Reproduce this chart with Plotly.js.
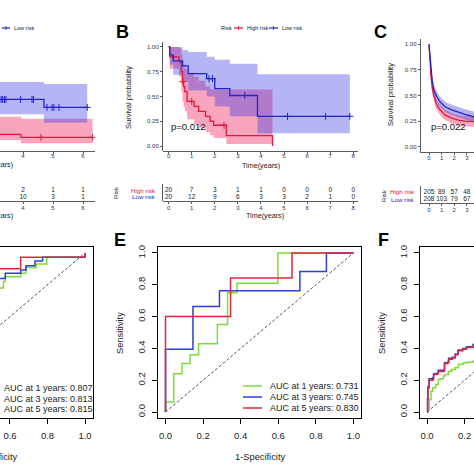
<!DOCTYPE html>
<html><head><meta charset="utf-8">
<script src="https://cdn.plot.ly/plotly-3.0.1.min.js"></script>
<style>html,body{margin:0;padding:0;background:#fff}#chart{width:474px;height:474px}</style>
</head><body><div id="chart"></div>
<script>
// ===== Panel A (Kaplan-Meier, right part visible) =====
const aLowT = [3.0, 4.7, 6.14];
const aLowS = [0.47, 0.39, 0.39];
const aLowUp = [0.646, 0.626, 0.626];
const aLowLo = [0.32, 0.235, 0.235];
const aHighT = [3.0, 3.93, 6.32];
const aHighS = [0.118, 0.088, 0.088];
const aHighUp = [0.296, 0.276, 0.276];
const aHighLo = [0.06, 0.027, 0.027];
const aLowCensT = [3.27, 3.32, 3.38, 3.43, 3.92, 4.3, 4.35, 4.8, 4.97, 5.03, 5.2, 6.14];
const aLowCensS = [0.47, 0.47, 0.47, 0.47, 0.47, 0.47, 0.47, 0.39, 0.39, 0.39, 0.39, 0.39];
const aHighCensT = [4.6, 6.32];
const aHighCensS = [0.088, 0.088];
const aRiskT = [4, 5, 6];
const aRiskHigh = [2, 1, 1];
const aRiskLow = [10, 3, 1];

// ===== Panel B =====
const bHighT  = [0, 0.05, 0.45, 0.55, 0.6, 0.65, 0.7, 0.8, 1.1, 1.3, 1.6, 1.8, 1.95, 2.5, 4.5, 4.5];
const bHighS  = [1, 0.90, 0.85, 0.75, 0.65, 0.60, 0.55, 0.45, 0.40, 0.35, 0.30, 0.25, 0.21, 0.105, 0.105, 0];
const bHighBT = [0, 0.05, 0.45, 0.55, 0.6, 0.65, 0.7, 0.8, 1.1, 1.3, 1.6, 1.8, 1.95, 2.5, 4.5];
const bHighUp = [1, 1.0, 0.99, 0.93, 0.86, 0.82, 0.78, 0.74, 0.70, 0.66, 0.60, 0.57, 0.57, 0.57, 0.57];
const bHighLo = [1, 0.78, 0.70, 0.55, 0.45, 0.40, 0.35, 0.27, 0.22, 0.18, 0.14, 0.11, 0.08, 0.02, 0.02];
const bLowT  = [0, 0.05, 0.2, 0.6, 0.85, 1.65, 2.0, 2.65, 3.85, 7.85];
const bLowS  = [1, 0.92, 0.86, 0.81, 0.73, 0.68, 0.58, 0.51, 0.30, 0.30];
const bLowUp = [1, 1, 1, 0.97, 0.95, 0.90, 0.87, 0.83, 0.725, 0.725];
const bLowLo = [1, 0.82, 0.72, 0.65, 0.56, 0.50, 0.40, 0.30, 0.13, 0.13];
const bHighCensT = [0.62, 1.0, 2.4];
const bHighCensS = [0.65, 0.45, 0.21];
const bLowCensT = [1.75, 1.9, 3.3, 5.15, 6.8, 7.85];
const bLowCensS = [0.68, 0.68, 0.51, 0.30, 0.30, 0.30];
const bRiskT = [0, 1, 2, 3, 4, 5, 6, 7, 8];
const bRiskHigh = [20, 7, 3, 1, 1, 0, 0, 0, 0];
const bRiskLow = [20, 12, 9, 6, 3, 3, 2, 1, 0];

// ===== Panel C =====
const cT = [0, 0.08, 0.16, 0.26, 0.4, 0.61, 0.87, 1.27, 1.8, 2.33, 2.86, 3.65];
const cLowS  = [1.0, 0.86, 0.73, 0.635, 0.55, 0.49, 0.44, 0.39, 0.36, 0.335, 0.315, 0.29];
const cLowUp = [1.0, 0.90, 0.78, 0.69, 0.60, 0.54, 0.49, 0.44, 0.41, 0.385, 0.365, 0.34];
const cLowLo = [1.0, 0.82, 0.68, 0.58, 0.50, 0.44, 0.39, 0.34, 0.31, 0.285, 0.265, 0.24];
const cHighS  = [1.0, 0.79, 0.685, 0.57, 0.49, 0.41, 0.36, 0.31, 0.28, 0.26, 0.25, 0.245];
const cHighUp = [1.0, 0.83, 0.73, 0.62, 0.54, 0.46, 0.41, 0.36, 0.33, 0.31, 0.30, 0.295];
const cHighLo = [1.0, 0.75, 0.64, 0.52, 0.44, 0.36, 0.31, 0.26, 0.23, 0.21, 0.20, 0.195];
const cRiskT = [0, 1, 2, 3];
const cRiskHigh = [205, 89, 57, 48];
const cRiskLow = [208, 103, 79, 67];

// ===== Panel D (ROC, right part visible) =====
const dGreenX = [0.50, 0.565, 0.575, 0.657, 0.685, 0.74, 0.796, 1.0, 1.0];
const dGreenY = [0.78, 0.82, 0.851, 0.872, 0.908, 0.93, 0.973, 0.973, 1.0];
const dBlueX = [0.50, 0.575, 0.657, 0.685, 0.733, 0.774, 1.0, 1.0];
const dBlueY = [0.84, 0.872, 0.893, 0.92, 0.95, 0.973, 0.973, 1.0];
const dRedX = [0.50, 0.657, 1.0, 1.0];
const dRedY = [0.90, 0.973, 0.973, 1.0];
const dAuc = ['0.807', '0.813', '0.815'];

// ===== Panel E =====
const eGreenX = [0, 0, 0.044, 0.088, 0.13, 0.176, 0.276, 0.33, 0.38, 0.598, 1.0];
const eGreenY = [0, 0.063, 0.24, 0.305, 0.36, 0.43, 0.55, 0.75, 0.81, 1.0, 1.0];
const eBlueX = [0, 0, 0.146, 0.287, 0.715, 0.856, 1.0];
const eBlueY = [0, 0.394, 0.663, 0.762, 0.884, 1.0, 1.0];
const eRedX = [0, 0, 0.346, 0.673, 1.0];
const eRedY = [0, 0.60, 0.842, 1.0, 1.0];
const eAuc = ['0.731', '0.745', '0.830'];

// ===== Panel F (ROC, left part visible) =====
const fRedX = [0, 0.003, 0.005, 0.011, 0.03, 0.035, 0.055, 0.06, 0.09, 0.093, 0.11, 0.115, 0.135, 0.15, 0.165, 0.19, 0.21, 0.245, 0.27];
const fRedY = [0, 0.09, 0.15, 0.20, 0.205, 0.236, 0.24, 0.255, 0.26, 0.305, 0.31, 0.332, 0.34, 0.36, 0.385, 0.395, 0.405, 0.415, 0.42];
const fBlueX = [0, 0.003, 0.005, 0.011, 0.03, 0.035, 0.055, 0.06, 0.09, 0.093, 0.11, 0.115, 0.135, 0.15, 0.165, 0.19, 0.21, 0.245, 0.27];
const fBlueY = [0, 0.08, 0.16, 0.21, 0.215, 0.24, 0.245, 0.262, 0.265, 0.31, 0.315, 0.338, 0.345, 0.365, 0.39, 0.40, 0.41, 0.425, 0.43];
const fGreenX = [0, 0.0035, 0.012, 0.021, 0.03, 0.046, 0.06, 0.07, 0.087, 0.096, 0.114, 0.131, 0.149, 0.167, 0.193, 0.22, 0.246, 0.27];
const fGreenY = [0, 0.015, 0.078, 0.131, 0.152, 0.173, 0.205, 0.21, 0.226, 0.236, 0.257, 0.268, 0.278, 0.30, 0.31, 0.314, 0.32, 0.325];

const rocYears = [1, 3, 5];

// ---------- styling ----------
const FONT = 'Liberation Sans, Arial, sans-serif';
const W = 474;
const PX = v => v / W;
const PY = v => 1 - v / W;
const kmRed = '#e3173c', kmBlue = '#2424c8';
const redFill = 'rgba(240,40,100,0.42)', blueFill = 'rgba(50,50,230,0.36)';
const rocCol = ['#7ddc3c', '#2f3fd0', '#e3243f'];

const traces = [];
function band(xa, ya, t, lo, hi, fill, shape) {
  traces.push({type:'scatter', x:t, y:lo, xaxis:xa, yaxis:ya, mode:'lines', line:{width:0, shape:shape}, hoverinfo:'skip'});
  traces.push({type:'scatter', x:t, y:hi, xaxis:xa, yaxis:ya, mode:'lines', line:{width:0, shape:shape}, fill:'tonexty', fillcolor:fill, hoverinfo:'skip'});
}
function line(xa, ya, x, y, color, w, shape, dash) {
  traces.push({type:'scatter', x:x, y:y, xaxis:xa, yaxis:ya, mode:'lines', line:{color:color, width:w, shape:shape, dash:dash||'solid'}, hoverinfo:'skip', cliponaxis:true});
}
function cens(xa, ya, x, y, color) {
  traces.push({type:'scatter', x:x, y:y, xaxis:xa, yaxis:ya, mode:'markers', marker:{symbol:'cross-thin-open', size:5, color:color, line:{width:1, color:color}}, hoverinfo:'skip', cliponaxis:true});
}
function riskRow(xa, ya, t, vals, row) {
  traces.push({type:'scatter', mode:'text', x:t, y:t.map(() => row), text:vals.map(String), xaxis:xa, yaxis:ya, textfont:{size:6.5, color:'#222', family:FONT}, hoverinfo:'skip', cliponaxis:false});
}

// A
band('x', 'y', aHighT, aHighLo, aHighUp, redFill, 'hv');
band('x', 'y', aLowT, aLowLo, aLowUp, blueFill, 'hv');
line('x', 'y', aHighT, aHighS, kmRed, 1.3, 'hv');
line('x', 'y', aLowT, aLowS, kmBlue, 1.3, 'hv');
cens('x', 'y', aHighCensT, aHighCensS, kmRed);
cens('x', 'y', aLowCensT, aLowCensS, kmBlue);
riskRow('x4', 'y4', aRiskT, aRiskHigh, 1);
riskRow('x4', 'y4', aRiskT, aRiskLow, 0);
// B
band('x2', 'y2', bHighBT, bHighLo, bHighUp, redFill, 'hv');
band('x2', 'y2', bLowT, bLowLo, bLowUp, blueFill, 'hv');
line('x2', 'y2', bHighT, bHighS, kmRed, 1.3, 'hv');
line('x2', 'y2', bLowT, bLowS, kmBlue, 1.3, 'hv');
cens('x2', 'y2', bHighCensT, bHighCensS, kmRed);
cens('x2', 'y2', bLowCensT, bLowCensS, kmBlue);
riskRow('x5', 'y5', bRiskT, bRiskHigh, 1);
riskRow('x5', 'y5', bRiskT, bRiskLow, 0);
// C
band('x3', 'y3', cT, cHighLo, cHighUp, redFill, 'linear');
band('x3', 'y3', cT, cLowLo, cLowUp, blueFill, 'linear');
line('x3', 'y3', cT, cHighS, kmRed, 1.3, 'linear');
line('x3', 'y3', cT, cLowS, kmBlue, 1.3, 'linear');
riskRow('x6', 'y6', cRiskT, cRiskHigh, 1);
riskRow('x6', 'y6', cRiskT, cRiskLow, 0);
// D
line('x7', 'y7', [0, 1], [0, 1], '#555', 1, 'linear', '3px,2px');
line('x7', 'y7', dGreenX, dGreenY, rocCol[0], 1.5, 'hv');
line('x7', 'y7', dBlueX, dBlueY, rocCol[1], 1.5, 'hv');
line('x7', 'y7', dRedX, dRedY, rocCol[2], 1.5, 'hv');
// E
line('x8', 'y8', [0, 1], [0, 1], '#555', 1, 'linear', '3px,2px');
line('x8', 'y8', eGreenX, eGreenY, rocCol[0], 1.5, 'hv');
line('x8', 'y8', eBlueX, eBlueY, rocCol[1], 1.5, 'hv');
line('x8', 'y8', eRedX, eRedY, rocCol[2], 1.5, 'hv');
// F
line('x9', 'y9', [0, 1], [0, 1], '#555', 1, 'linear', '3px,2px');
line('x9', 'y9', fGreenX, fGreenY, rocCol[0], 1.5, 'hv');
line('x9', 'y9', fBlueX, fBlueY, rocCol[1], 1.5, 'hv');
line('x9', 'y9', fRedX, fRedY, rocCol[2], 1.5, 'hv');

// ---------- axes ----------
const base = {showgrid:false, zeroline:false, fixedrange:true};
function kmX(dom, rng, anchor, ticklen, standoff) {
  return Object.assign({}, base, {domain:dom, range:rng, anchor:anchor, showline:true, linecolor:'#333', linewidth:0.8,
    ticks:'outside', ticklen:ticklen, tickwidth:0.8, tickcolor:'#333', tick0:0, dtick:1, ticklabelstandoff:standoff,
    tickfont:{size:6, color:'#333', family:FONT}});
}
function kmY(dom, anchor) {
  return Object.assign({}, base, {domain:dom, range:[-0.05, 1.05], anchor:anchor, showline:true, linecolor:'#333', linewidth:0.8,
    ticks:'outside', ticklen:2.5, tickwidth:0.8, tickcolor:'#333', tickvals:[0, 0.25, 0.5, 0.75, 1], tickformat:'.2f',
    tickfont:{size:6, color:'#333', family:FONT}});
}
function tabY(dom, rng, anchor, show) {
  return Object.assign({}, base, {domain:dom, range:rng, anchor:anchor, showline:show, linecolor:'#333', linewidth:0.8,
    ticks:'', showticklabels:false});
}
function rocX(dom, rng, anchor) {
  return Object.assign({}, base, {domain:dom, range:rng, anchor:anchor, showline:true, mirror:true, linecolor:'#000', linewidth:1,
    ticks:'outside', ticklen:5, tickwidth:1, tickcolor:'#000', tickvals:[0, 0.2, 0.4, 0.6, 0.8, 1], tickformat:'.1f',
    ticklabelstandoff:3, tickfont:{size:9.5, color:'#222', family:FONT}});
}
function rocY(dom, anchor, extra) {
  return Object.assign({}, base, {domain:dom, range:[-0.04, 1.04], anchor:anchor, showline:true, linecolor:'#000', linewidth:1,
    ticks:'outside', ticklen:5, tickwidth:1, tickcolor:'#000', tickvals:[0, 0.2, 0.4, 0.6, 0.8, 1], tickformat:'.1f',
    tickangle:-90, ticklabelstandoff:3, tickfont:{size:9.5, color:'#222', family:FONT}}, extra || {});
}

const kmYdom = [PY(151), PY(42)];
const layout = {
  width:474, height:474, margin:{l:0, r:0, t:0, b:0}, paper_bgcolor:'#fff', plot_bgcolor:'rgba(0,0,0,0)',
  showlegend:false, font:{family:FONT, color:'#222'},
  xaxis: kmX([0, PX(95)], [3.233, 6.4], 'y', 2, -3),
  yaxis: Object.assign({}, base, {domain:kmYdom, range:[-0.05, 1.05], anchor:'x', visible:false}),
  xaxis2: kmX([PX(163.3), PX(357.9)], [-0.23, 8.2], 'y2', 2, -3),
  yaxis2: kmY(kmYdom, 'x2'),
  xaxis3: kmX([PX(421), 1], [-0.635, 3.571], 'y3', 2, -2),
  yaxis3: kmY([PY(151.8), PY(39.2)], 'x3'),
  xaxis4: kmX([0, PX(95)], [3.233, 6.4], 'y4', 2, -1),
  yaxis4: tabY([PY(201), PY(184)], [-0.615, 2.0], 'x4', false),
  xaxis5: kmX([PX(163.3), PX(357.9)], [-0.23, 8.2], 'y5', 2, -1),
  yaxis5: tabY([PY(201), PY(184)], [-0.615, 2.0], 'x5', true),
  xaxis6: kmX([PX(421), 1], [-0.635, 3.571], 'y6', 2, -1),
  yaxis6: tabY([PY(203), PY(186)], [-0.467, 1.8], 'x6', true),
  xaxis7: rocX([0, PX(92.5)], [0.5467, 1.04], 'y7'),
  yaxis7: rocY([PY(418.4), PY(246.6)], 'x7', {side:'right', ticks:'', showticklabels:false}),
  xaxis8: rocX([PX(158), PX(361)], [-0.04, 1.04], 'y8'),
  yaxis8: rocY([PY(418.4), PY(246.6)], 'x8', {mirror:true}),
  xaxis9: rocX([PX(419.5), 1], [-0.04, 0.25], 'y9'),
  yaxis9: rocY([PY(418.4), PY(246.6)], 'x9'),
  annotations: [],
  shapes: []
};

function ann(text, x, y, size, opts) {
  layout.annotations.push(Object.assign({text:text, x:PX(x), y:PY(y), xref:'paper', yref:'paper', showarrow:false,
    xanchor:'center', yanchor:'middle', font:{size:size, family:FONT, color:'#222'}}, opts || {}));
}
function seg(x0, y0, x1, y1, color, w) {
  layout.shapes.push({type:'line', xref:'paper', yref:'paper', x0:PX(x0), y0:PY(y0), x1:PX(x1), y1:PY(y1), line:{color:color, width:w}});
}

// panel letters
ann('<b>B</b>', 122, 32, 18, {font:{size:18, family:FONT, color:'#000'}});
ann('<b>C</b>', 380, 32, 18, {font:{size:18, family:FONT, color:'#000'}});
ann('<b>E</b>', 120, 240, 18, {font:{size:18, family:FONT, color:'#000'}});
ann('<b>F</b>', 383, 240, 18, {font:{size:18, family:FONT, color:'#000'}});

// KM titles
ann('Survival probability', 128, 97, 7.5, {textangle:-90});
ann('Survival probability', 390, 95, 7.5, {textangle:-90});
ann('Time(years)', 261, 165, 7.2);
ann('Time(years)', -6, 164, 7.2);
ann('Time(years)', 265, 215.5, 7.2);
ann('Time(years)', -6, 215, 7.2);
ann('p=0.012', 188, 127, 9.5, {font:{size:9.5, family:FONT, color:'#111'}});
ann('p=0.022', 448, 127, 9.5, {font:{size:9.5, family:FONT, color:'#111'}});
// risk table labels
ann('Risk', 115, 193, 6.2, {textangle:-90});
ann('Risk', 383, 196, 6.2, {textangle:-90});
ann('High risk', 158, 190.5, 6.2, {xanchor:'right', font:{size:6.2, family:FONT, color:kmRed}});
ann('Low risk', 158, 197, 6.2, {xanchor:'right', font:{size:6.2, family:FONT, color:kmBlue}});
ann('High risk', 417, 192, 6.2, {xanchor:'right', font:{size:6.2, family:FONT, color:kmRed}});
ann('Low risk', 417, 199.5, 6.2, {xanchor:'right', font:{size:6.2, family:FONT, color:kmBlue}});
// KM legends
ann('Risk', 226, 28, 5.5);
seg(234, 28, 243, 28, kmRed, 1.2); seg(238.5, 26, 238.5, 30, kmRed, 0.8);
ann('High risk', 245, 28, 5.5, {xanchor:'left'});
seg(269, 28, 278, 28, kmBlue, 1.2); seg(273.5, 26, 273.5, 30, kmBlue, 0.8);
ann('Low risk', 280, 28, 5.5, {xanchor:'left'});
seg(2, 28, 10, 28, kmBlue, 1.2); seg(6, 26, 6, 30, kmBlue, 0.8);
ann('Low risk', 12, 28, 5.5, {xanchor:'left'});

// ROC titles
ann('Sensitivity', 120, 333, 9.3, {textangle:-90});
ann('Sensitivity', 382, 333, 9.3, {textangle:-90});
ann('1-Specificity', 260, 457, 9.3);
ann('1-Specificity', -8, 457, 9.3);
// ROC legends
const eRows = [386, 397, 408], dRows = [388, 398.5, 409];
rocYears.forEach((yr, i) => {
  seg(243, eRows[i], 262, eRows[i], rocCol[i], 1.5);
  ann('AUC at ' + yr + ' years: ' + eAuc[i], 268, eRows[i], 9, {xanchor:'left'});
  seg(-25, dRows[i], -6, dRows[i], rocCol[i], 1.5);
  ann('AUC at ' + yr + ' years: ' + dAuc[i], 1.7, dRows[i], 9, {xanchor:'left'});
});

Plotly.newPlot('chart', traces, layout, {staticPlot:true, displayModeBar:false});
</script>
</body></html>
